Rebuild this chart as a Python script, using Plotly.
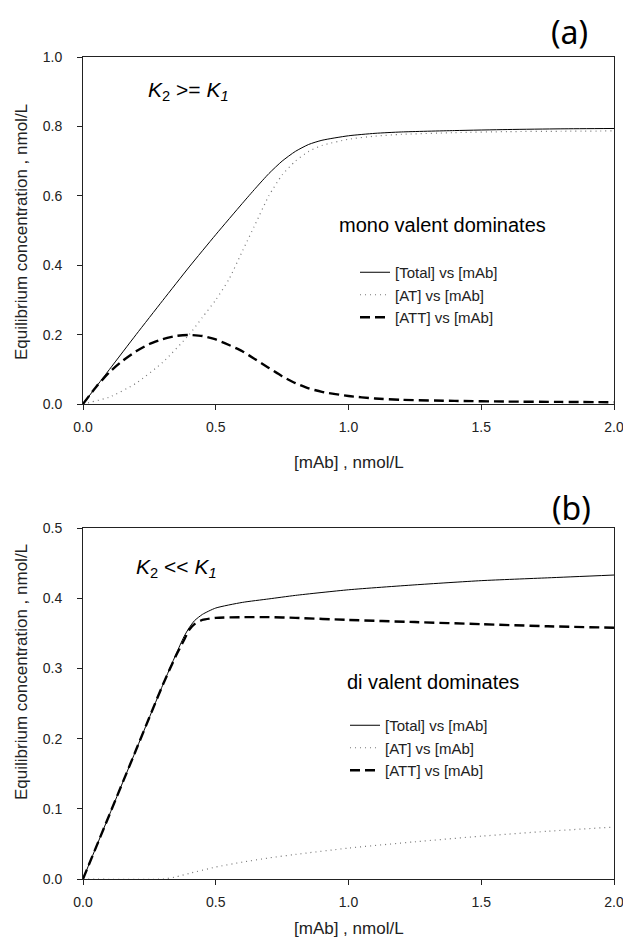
import plotly.graph_objects as go

W, H = 623, 940

# ---------------- Panel (a): K2 >= K1 ----------------
a_total_x = [0, 0.1, 0.2, 0.3, 0.4, 0.5, 0.6, 0.65, 0.7, 0.75, 0.8, 0.85, 0.9, 1.0, 1.1, 1.2, 1.4, 1.6, 1.8, 2.0]
a_total_y = [0, 0.1, 0.2, 0.298, 0.395, 0.488, 0.578, 0.622, 0.664, 0.70, 0.728, 0.748, 0.76, 0.773, 0.78, 0.784, 0.788, 0.791, 0.793, 0.794]

a_at_x = [0, 0.1, 0.2, 0.3, 0.4, 0.45, 0.5, 0.55, 0.6, 0.65, 0.7, 0.75, 0.8, 0.85, 0.9, 1.0, 1.1, 1.2, 1.4, 1.6, 1.8, 2.0]
a_at_y = [0, 0.02, 0.06, 0.12, 0.2, 0.25, 0.3, 0.36, 0.44, 0.52, 0.6, 0.66, 0.7, 0.728, 0.745, 0.763, 0.772, 0.777, 0.782, 0.785, 0.786, 0.787]

a_att_x = [0, 0.05, 0.1, 0.15, 0.2, 0.25, 0.3, 0.35, 0.4, 0.45, 0.5, 0.55, 0.6, 0.65, 0.7, 0.75, 0.8, 0.85, 0.9, 1.0, 1.1, 1.2, 1.4, 1.6, 1.8, 2.0]
a_att_y = [0, 0.05, 0.092, 0.125, 0.152, 0.173, 0.187, 0.196, 0.199, 0.196, 0.186, 0.17, 0.152, 0.128, 0.104, 0.08, 0.06, 0.045, 0.035, 0.023, 0.016, 0.012, 0.009, 0.007, 0.006, 0.005]

# ---------------- Panel (b): K2 << K1 ----------------
b_total_x = [0, 0.1, 0.2, 0.3, 0.35, 0.38, 0.4, 0.42, 0.45, 0.5, 0.6, 0.7, 0.8, 1.0, 1.25, 1.5, 1.75, 2.0]
b_total_y = [0, 0.092, 0.184, 0.276, 0.32, 0.345, 0.358, 0.368, 0.377, 0.386, 0.394, 0.399, 0.404, 0.412, 0.419, 0.425, 0.429, 0.433]

b_at_x = [0, 0.3, 0.35, 0.4, 0.5, 0.6, 0.7, 0.8, 1.0, 1.25, 1.5, 1.75, 2.0]
b_at_y = [0, 0.0, 0.003, 0.008, 0.017, 0.024, 0.03, 0.035, 0.044, 0.053, 0.061, 0.068, 0.074]

b_att_x = [0, 0.1, 0.2, 0.3, 0.35, 0.38, 0.4, 0.42, 0.45, 0.5, 0.6, 0.7, 0.8, 1.0, 1.25, 1.5, 1.75, 2.0]
b_att_y = [0, 0.092, 0.184, 0.276, 0.318, 0.34, 0.355, 0.363, 0.369, 0.372, 0.373, 0.373, 0.372, 0.369, 0.366, 0.363, 0.36, 0.358]

x_ticks = [0, 0.5, 1.0, 1.5, 2.0]
x_ticktext = ["0.0", "0.5", "1.0", "1.5", "2.0"]
ya_ticks = [0, 0.2, 0.4, 0.6, 0.8, 1.0]
ya_ticktext = ["0.0", "0.2", "0.4", "0.6", "0.8", "1.0"]
yb_ticks = [0, 0.1, 0.2, 0.3, 0.4, 0.5]
yb_ticktext = ["0.0", "0.1", "0.2", "0.3", "0.4", "0.5"]

names = ["[Total] vs [mAb]", "[AT] vs [mAb]", "[ATT] vs [mAb]"]

solid = dict(color="black", width=1)
dotted = dict(color="#777777", width=1.2, dash="1px,4px")
dashed = dict(color="black", width=2.4, dash="10px,5px")

fig = go.Figure()
for xs, ys, nm, ln in [(a_total_x, a_total_y, names[0], solid),
                       (a_at_x, a_at_y, names[1], dotted),
                       (a_att_x, a_att_y, names[2], dashed)]:
    fig.add_trace(go.Scatter(x=xs, y=ys, mode="lines", name=nm, line=dict(shape="spline", smoothing=0.6, **ln),
                             xaxis="x", yaxis="y", legend="legend"))
for xs, ys, nm, ln in [(b_total_x, b_total_y, names[0], solid),
                       (b_at_x, b_at_y, names[1], dotted),
                       (b_att_x, b_att_y, names[2], dashed)]:
    fig.add_trace(go.Scatter(x=xs, y=ys, mode="lines", name=nm, line=dict(shape="spline", smoothing=0.6, **ln),
                             xaxis="x2", yaxis="y2", legend="legend2"))


def px(x):
    return x / W


def py(y):
    return 1 - y / H


FONT = "Liberation Sans, Arial"
tickfont = dict(family=FONT, size=14, color="#222222")
axis_common = dict(showline=True, linecolor="#222222", linewidth=1, mirror=True, ticks="outside",
                   ticklen=5, tickcolor="#222222", tickwidth=1, showgrid=False, zeroline=False,
                   tickfont=tickfont, ticklabeloverflow="allow")

X0, X1 = 83, 614
A_TOP, A_BOT = 57, 404
B_TOP, B_BOT = 528, 879

legend_font = dict(family=FONT, size=15, color="#222222")

fig.update_layout(
    width=W, height=H,
    margin=dict(l=0, r=0, t=0, b=0, autoexpand=False),
    paper_bgcolor="white", plot_bgcolor="white",
    xaxis=dict(domain=[px(X0), px(X1)], range=[0, 2], tickvals=x_ticks, ticktext=x_ticktext,
               anchor="y", ticklabelstandoff=5, **axis_common),
    yaxis=dict(domain=[py(A_BOT), py(A_TOP)], range=[0, 1.0], tickvals=ya_ticks, ticktext=ya_ticktext,
               anchor="x", ticklabelstandoff=12, **axis_common),
    xaxis2=dict(domain=[px(X0), px(X1)], range=[0, 2], tickvals=x_ticks, ticktext=x_ticktext,
                anchor="y2", ticklabelstandoff=5, **axis_common),
    yaxis2=dict(domain=[py(B_BOT), py(B_TOP)], range=[0, 0.5], tickvals=yb_ticks, ticktext=yb_ticktext,
                anchor="x2", ticklabelstandoff=12, **axis_common),
    legend=dict(x=px(355), y=py(256), xanchor="left", yanchor="top", bgcolor="rgba(0,0,0,0)",
                font=legend_font, tracegroupgap=0, itemwidth=30),
    legend2=dict(x=px(345), y=py(709), xanchor="left", yanchor="top", bgcolor="rgba(0,0,0,0)",
                 font=legend_font, tracegroupgap=0, itemwidth=30),
    showlegend=True,
)

ann = []
# panel letters
ann.append(dict(x=px(569), y=py(31), text="(a)", xanchor="center", yanchor="middle",
                font=dict(family="Noto Sans", size=32, color="black")))
ann.append(dict(x=px(571), y=py(507), text="(b)", xanchor="center", yanchor="middle",
                font=dict(family="Noto Sans", size=32, color="black")))
# K labels
ann.append(dict(x=px(146), y=py(91), xanchor="left", yanchor="middle",
                text="<i>K</i><sub>2</sub> >= <i>K<sub>1</sub></i>",
                font=dict(family=FONT, size=21, color="black")))
ann.append(dict(x=px(134), y=py(568), xanchor="left", yanchor="middle",
                text="<i>K</i><sub>2</sub> << <i>K<sub>1</sub></i>",
                font=dict(family=FONT, size=21, color="black")))
# dominance notes
ann.append(dict(x=px(337), y=py(225), xanchor="left", yanchor="middle", text="mono valent dominates",
                font=dict(family=FONT, size=20, color="black")))
ann.append(dict(x=px(345), y=py(682), xanchor="left", yanchor="middle", text="di valent dominates",
                font=dict(family=FONT, size=20, color="black")))
# axis titles
xt_font = dict(family=FONT, size=17, color="#222222")
yt_font = dict(family=FONT, size=17, color="#222222")
ann.append(dict(x=px(349), y=py(462), xanchor="center", yanchor="middle", text="[mAb] , nmol/L", font=xt_font))
ann.append(dict(x=px(349), y=py(928), xanchor="center", yanchor="middle", text="[mAb] , nmol/L", font=xt_font))
ann.append(dict(x=px(21), y=py(232), xanchor="center", yanchor="middle",
                text="Equilibrium concentration , nmol/L", textangle=-90, font=yt_font))
ann.append(dict(x=px(21), y=py(672), xanchor="center", yanchor="middle",
                text="Equilibrium concentration , nmol/L", textangle=-90, font=yt_font))
for a in ann:
    a.update(xref="paper", yref="paper", showarrow=False)
fig.update_layout(annotations=ann)

fig.write_html("out.html")
